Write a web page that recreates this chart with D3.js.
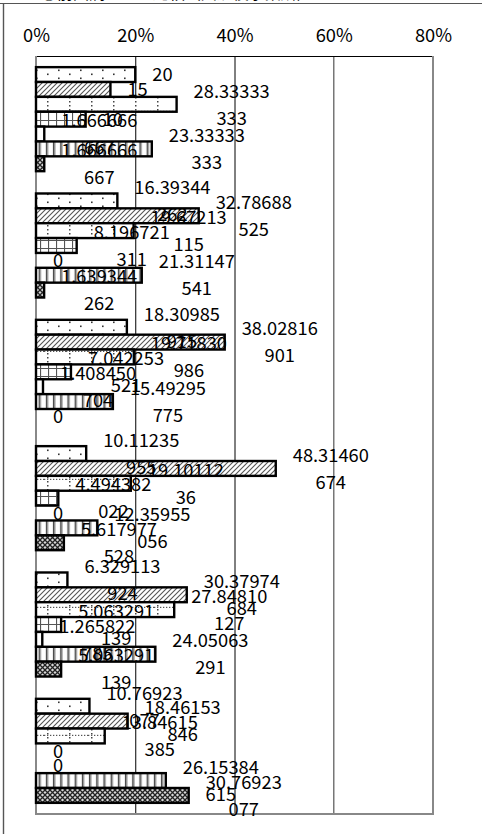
<!DOCTYPE html>
<html>
<head>
<meta charset="utf-8">
<script src="https://cdn.jsdelivr.net/npm/d3@7"></script>
<style>
  html, body { margin: 0; padding: 0; background: #fff; }
  svg { display: block; }
</style>
</head>
<body>
<script>
// ---- data -------------------------------------------------------------
const groups = ["1", "2", "3", "4", "5", "6"];
const seriesKeys = ["series1", "series2", "series3", "series4", "series5", "series6", "series7"];

// percentage shares per group (each group sums to 100)
const series1 = [20, 16.39344262, 18.30985915, 10.11235955, 6.329113924, 10.76923077];
const series2 = [15, 32.78688525, 38.02816901, 48.31460674, 30.37974684, 18.46153846];
const series3 = [28.33333333, 19.67213115, 19.71830986, 19.1011236, 27.84810127, 13.84615385];
const series4 = [10, 8.196721311, 7.042253521, 4.494382022, 5.063291139, 0];
const series5 = [1.666666667, 0, 1.408450704, 0, 1.265822785, 0];
const series6 = [23.33333333, 21.31147541, 15.49295775, 12.35955056, 24.05063291, 26.15384615];
const series7 = [1.666666667, 1.639344262, 0, 5.617977528, 5.063291139, 30.76923077];

const tickValues = [0, 20, 40, 60, 80];
const tickLabels = ["0%", "20%", "40%", "60%", "80%"];

const titleText = "③前回調査との比較（大規模事業所）";

const seriesValues = [series1, series2, series3, series4, series5, series6, series7];

// ---- styles -----------------------------------------------------------
const FONT = "'Noto Sans CJK JP', 'Liberation Sans', sans-serif";
const FONT_SIZE = 18.3;
const fills = ["url(#pDots)", "url(#pHatch)", "url(#pDotGrid)", "url(#pGrid)", "#ffffff", "url(#pVert)", "url(#pCross)"];

const W = 482, H = 834;
const plot = { left: 36, right: 433, top: 56, bottom: 814 };

const svg = d3.select("body").append("svg")
  .attr("width", W).attr("height", H)
  .attr("font-family", FONT);

// ---- fill patterns ----------------------------------------------------
const defs = svg.append("defs");

function pattern(id, w, h) {
  const p = defs.append("pattern").attr("id", id)
    .attr("patternUnits", "userSpaceOnUse")
    .attr("width", w).attr("height", h);
  p.append("rect").attr("width", w).attr("height", h).attr("fill", "#fff");
  return p;
}

// sparse staggered dots
{
  const p = pattern("pDots", 22, 8);
  p.append("rect").attr("x", 3).attr("y", 1.5).attr("width", 1.6).attr("height", 1.6).attr("fill", "#333");
  p.append("rect").attr("x", 14).attr("y", 5.5).attr("width", 1.6).attr("height", 1.6).attr("fill", "#333");
}
// upward diagonal hatch
{
  const p = pattern("pHatch", 5, 5);
  p.append("path").attr("d", "M-1,6 L6,-1 M-1,1 L1,-1 M4,6 L6,4")
    .attr("stroke", "#555").attr("stroke-width", 1.1);
}
// dotted columns with a dotted row
{
  const p = pattern("pDotGrid", 22, 16);
  [1, 5, 9, 13].forEach(yy => p.append("rect").attr("x", 3).attr("y", yy).attr("width", 1.5).attr("height", 1.5).attr("fill", "#444"));
  d3.range(0, 22, 3).forEach(xx => p.append("rect").attr("x", xx).attr("y", 14.8).attr("width", 1.3).attr("height", 1.3).attr("fill", "#555"));
}
// small square grid
{
  const p = pattern("pGrid", 8, 8);
  p.append("path").attr("d", "M0.5,0 V8 M0,0.5 H8").attr("stroke", "#555").attr("stroke-width", 1.2);
}
// vertical stripes
{
  const p = pattern("pVert", 7.2, 10);
  p.append("rect").attr("x", 2.6).attr("width", 1.6).attr("height", 10).attr("fill", "#444");
  p.append("rect").attr("x", 4.2).attr("width", 1).attr("height", 10).attr("fill", "#aaa");
}
// dark diagonal crosshatch
{
  const p = pattern("pCross", 5, 5);
  p.append("rect").attr("width", 5).attr("height", 5).attr("fill", "#d8d8d8");
  p.append("path").attr("d", "M0,0 L5,5 M5,0 L0,5").attr("stroke", "#222").attr("stroke-width", 1.3);
}

// ---- scales -----------------------------------------------------------
const x = d3.scaleLinear().domain([0, 80]).range([plot.left, plot.right]);
const y = d3.scaleBand().domain(groups)
  .range([plot.top, plot.bottom])
  .paddingInner(1.5 / 8.5)
  .paddingOuter(0.75 / 8.5);
const ySub = d3.scaleBand().domain(seriesKeys).range([0, y.bandwidth()]);

// ---- page frame and title (runs off the top edge) ----------------------
svg.append("text")
  .attr("x", 41).attr("y", -1.2)
  .attr("font-size", 16).attr("fill", "#000")
  .text(titleText);
svg.append("line").attr("x1", 0).attr("x2", W).attr("y1", 3.5).attr("y2", 3.5)
  .attr("stroke", "#555").attr("stroke-width", 1.2);
svg.append("line").attr("x1", 3.5).attr("x2", 3.5).attr("y1", 3).attr("y2", H)
  .attr("stroke", "#555").attr("stroke-width", 1.4);

// ---- gridlines and plot frame ----------------------------------------
const grid = svg.append("g");
[20, 40].forEach(t => grid.append("line")
  .attr("x1", x(t) + 0.5).attr("x2", x(t) + 0.5)
  .attr("y1", plot.top).attr("y2", plot.bottom)
  .attr("stroke", "#000").attr("stroke-width", 1));
grid.append("line")
  .attr("x1", x(60)).attr("x2", x(60))
  .attr("y1", plot.top).attr("y2", plot.bottom)
  .attr("stroke", "#777").attr("stroke-width", 1.5);
grid.append("line")
  .attr("x1", plot.left).attr("x2", plot.right)
  .attr("y1", plot.top + 0.5).attr("y2", plot.top + 0.5)
  .attr("stroke", "#000").attr("stroke-width", 1);
grid.append("line")
  .attr("x1", plot.right).attr("x2", plot.right)
  .attr("y1", plot.top).attr("y2", plot.bottom + 1)
  .attr("stroke", "#888").attr("stroke-width", 2);
grid.append("line")
  .attr("x1", plot.left - 1).attr("x2", plot.right + 1)
  .attr("y1", plot.bottom).attr("y2", plot.bottom)
  .attr("stroke", "#888").attr("stroke-width", 2);
grid.append("line")
  .attr("x1", plot.left).attr("x2", plot.left)
  .attr("y1", plot.top).attr("y2", plot.bottom + 1)
  .attr("stroke", "#888").attr("stroke-width", 2);

// ---- top axis ---------------------------------------------------------
const axis = svg.append("g")
  .attr("transform", `translate(0,${plot.top})`)
  .call(d3.axisTop(x)
    .tickValues(tickValues)
    .tickFormat((d, i) => tickLabels[i])
    .tickSize(0)
    .tickPadding(14.5));
axis.select(".domain").remove();
axis.selectAll("text")
  .attr("font-family", FONT)
  .attr("font-size", FONT_SIZE)
  .attr("fill", "#000");

// ---- bars -------------------------------------------------------------
const rows = [];
seriesKeys.forEach((k, si) => {
  groups.forEach((g, gi) => {
    rows.push({ key: k, si, group: g, value: seriesValues[si][gi] });
  });
});

const h = ySub.bandwidth();
svg.append("g").selectAll("rect")
  .data(rows.filter(d => d.value > 0))
  .join("rect")
  .attr("x", x(0))
  .attr("y", d => y(d.group) + ySub(d.key))
  .attr("width", d => x(d.value) - x(0))
  .attr("height", h)
  .attr("fill", d => fills[d.si])
  .attr("stroke", "#000")
  .attr("stroke-width", 2.4);

// ---- value labels (wrapped after 8 characters) -------------------------
function fmt(v) {
  let s = v.toPrecision(10);
  if (s.indexOf(".") >= 0) s = s.replace(/0+$/, "").replace(/\.$/, "");
  return s;
}
function wrap(s) {
  return s.length > 8 ? [s.slice(0, 8), s.slice(8)] : [s];
}

const labels = svg.append("g")
  .attr("font-size", FONT_SIZE)
  .attr("fill", "#000");
const baseShift = FONT_SIZE * 0.37;
const lineGap = 13.5;

rows.forEach(d => {
  const lines = wrap(fmt(d.value));
  const left = x(d.value) + 17;
  const cy = y(d.group) + ySub(d.key) + h / 2;
  if (lines.length === 1) {
    labels.append("text")
      .attr("x", left).attr("y", cy + baseShift)
      .text(lines[0]);
  } else {
    const t1 = labels.append("text")
      .attr("y", cy - lineGap + baseShift)
      .attr("text-anchor", "middle")
      .text(lines[0]);
    const w = t1.node().getComputedTextLength();
    t1.attr("x", left + w / 2);
    labels.append("text")
      .attr("x", left + w / 2)
      .attr("y", cy + lineGap + baseShift)
      .attr("text-anchor", "middle")
      .text(lines[1]);
  }
});
</script>
</body>
</html>
